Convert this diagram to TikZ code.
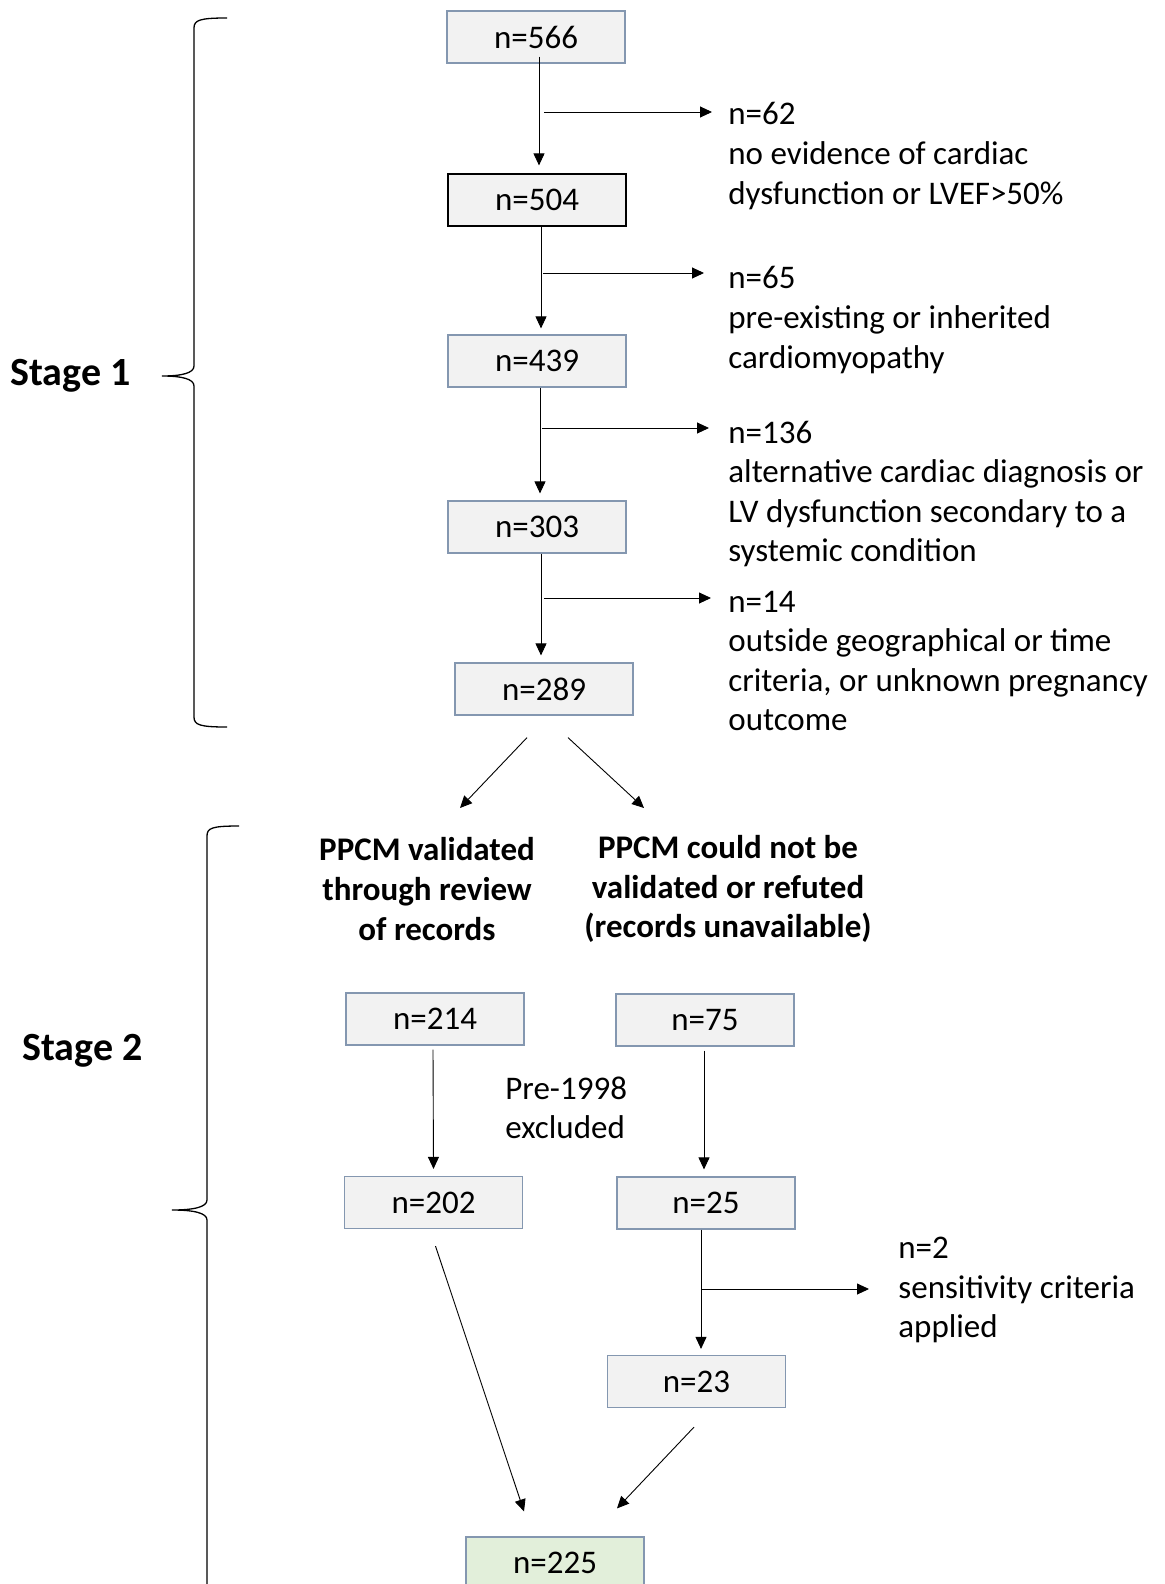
\documentclass[tikz,border=0pt]{standalone}
\usepackage{fontspec}
\setmainfont{Carlito}
\usetikzlibrary{arrows.meta}
\definecolor{boxgray}{HTML}{F2F2F2}
\definecolor{boxgreen}{HTML}{E2EFDA}
\definecolor{boxline}{HTML}{8497B0}

\begin{document}
\begin{tikzpicture}[x=0.5pt,y=-0.5pt,
	font=\fontsize{16.5}{19.8}\selectfont,
	nbox/.style={draw=boxline,fill=boxgray,line width=0.6pt,minimum width=89pt,minimum height=26pt,inner sep=0pt},
	note/.style={anchor=west,align=left,inner sep=0pt},
	head/.style={align=center,inner sep=0pt,font=\fontsize{16.5}{19.8}\selectfont\bfseries},
	stage/.style={anchor=west,inner sep=0pt,font=\fontsize{20}{24}\selectfont\bfseries},
	arr/.style={-{Triangle[length=6pt,width=5.5pt]},line width=0.45pt},
	brace/.style={line width=0.65pt}]
	\useasboundingbox (0,0) rectangle (1164,1584);
	% stage 1 boxes
	\node[nbox] (n566) at (536,37) {n=566};
	\node[nbox,draw=black] (n504) at (537,200) {n=504};
	\node[nbox] (n439) at (537,361) {n=439};
	\node[nbox] (n303) at (537,527) {n=303};
	\node[nbox] (n289) at (544,689) {n=289};
	% exclusions
	\node[note] (t62) at (728,156) {n=62\\no evidence of cardiac\\dysfunction or LVEF>50\%};
	\node[note] (t65) at (728,320) {n=65\\pre-existing or inherited\\cardiomyopathy};
	\node[note] (t136) at (728,494) {n=136\\alternative cardiac diagnosis or\\LV dysfunction secondary to a\\systemic condition};
	\node[note] (t14) at (728,661) {n=14\\outside geographical or time\\criteria, or unknown pregnancy\\outcome};
	% vertical flow, stage 1
	\draw[arr] ([xshift=1.5pt,yshift=3.5pt]n566.south) -- ([xshift=1pt,yshift=4pt]n504.north);
	\draw[arr] ([xshift=2pt]n504.south) -- ([xshift=2pt,yshift=3pt]n439.north);
	\draw[arr] ([xshift=1.5pt]n439.south) -- ([xshift=1.5pt,yshift=3.5pt]n303.north);
	\draw[arr] ([xshift=2pt]n303.south) -- ([xshift=-1.5pt,yshift=3.5pt]n289.north);
	% side arrows
	\coordinate (s62) at (544,112); \coordinate (e62) at (712,112);
	\coordinate (s65) at (543,273); \coordinate (e65) at (704,273);
	\coordinate (s136) at (542,428); \coordinate (e136) at (709,428);
	\coordinate (s14) at (544,598); \coordinate (e14) at (711,598);
	\draw[arr] (s62) -- (e62);
	\draw[arr] (s65) -- (e65);
	\draw[arr] (s136) -- (e136);
	\draw[arr] (s14) -- (e14);
	% split
	\coordinate (dl) at (460,808); \coordinate (dr) at (644,808);
	\draw[arr] ([xshift=-8.5pt,yshift=-11pt]n289.south) -- (dl);
	\draw[arr] ([xshift=12pt,yshift=-11pt]n289.south) -- (dr);
	\node[head] (hv) at (427,889) {PPCM validated\\through review\\of records};
	\node[head] (hn) at (728,889) {PPCM could not be\\validated or refuted\\(records unavailable)};
	% stage 2 boxes
	\node[nbox] (n214) at (435,1019) {n=214};
	\node[nbox] (n75) at (705,1020) {n=75};
	\node[nbox] (n202) at (433.5,1202.5) {n=202};
	\node[nbox] (n25) at (706,1203) {n=25};
	\node[nbox] (n23) at (696.5,1381.5) {n=23};
	\node[nbox,fill=boxgreen] (n225) at (555,1563) {n=225};
	\node[note] (pre) at (505,1108) {Pre-1998\\excluded};
	\node[note] (t2) at (898,1290) {n=2\\sensitivity criteria\\applied};
	% stage 2 flow
	\draw[arr] ([xshift=-1pt,yshift=-2pt]n214.south) -- ([yshift=3.5pt]n202.north);
	\draw[arr] ([xshift=-0.5pt,yshift=-2pt]n75.south) -- ([xshift=-1pt,yshift=3.5pt]n25.north);
	\draw[arr] ([xshift=-2.5pt]n25.south) -- ([xshift=2.25pt,yshift=3pt]n23.north);
	\coordinate (s2) at (702,1289); \coordinate (e2) at (869,1289);
	\draw[arr] (s2) -- (e2);
	\draw[arr] ([xshift=1pt,yshift=-8.5pt]n202.south) -- ([xshift=-15.5pt,yshift=12.5pt]n225.north);
	\draw[arr] ([xshift=-1.25pt,yshift=-9.5pt]n23.south) -- ([xshift=31pt,yshift=14pt]n225.north);
	% braces
	\draw[brace] (227,18) .. controls (200,18) and (194,20) .. (194,28) -- (194,366)
		.. controls (194,373) and (182,376) .. (162,376) .. controls (182,376) and (194,379) .. (194,386)
		-- (194,717) .. controls (194,725) and (200,727) .. (227,727);
	\draw[brace] (239,826) .. controls (212,826) and (207,828) .. (207,836) -- (207,1200)
		.. controls (207,1207) and (194,1210) .. (172,1210) .. controls (194,1210) and (207,1213) .. (207,1220)
		-- (207,1600);
	\node[stage] (st1) at (10,376) {Stage 1};
	\node[stage] (st2) at (22,1051) {Stage 2};
\end{tikzpicture}
\end{document}
